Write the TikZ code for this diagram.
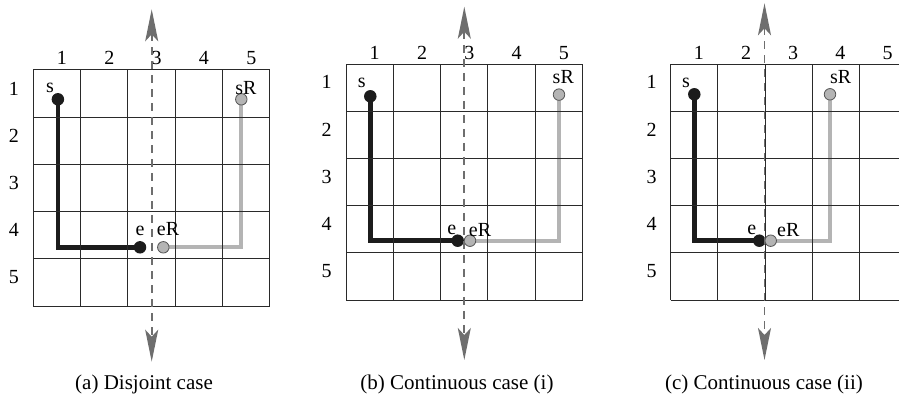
\documentclass[tikz,border=0pt]{standalone}
\usepackage{fontspec}
\setmainfont{Liberation Serif}
\usetikzlibrary{arrows.meta,backgrounds}
\definecolor{gridcol}{HTML}{2A2A2A}
\definecolor{blk}{HTML}{1C1C1C}
\definecolor{lgray}{HTML}{B4B4B4}
\definecolor{dgray}{HTML}{6E6E6E}
\definecolor{rim}{HTML}{555555}
\tikzset{
  gridline/.style={draw=gridcol,line width=1pt},
  blkpath/.style={draw=blk,line width=4.6pt},
  grypath/.style={draw=lgray,line width=4.2pt},
  blkdot/.style={circle,fill=blk,minimum size=12.5pt,inner sep=0pt},
  grydot/.style={circle,fill=lgray,draw=rim,line width=0.8pt,minimum size=11.5pt,inner sep=0pt},
  mirror/.style={draw=dgray,line width=1.8pt,dash pattern=on 8pt off 6pt,
    {Stealth[length=32pt,width=13pt,inset=7pt]}-{Stealth[length=32pt,width=13pt,inset=7pt]}},
  lbl/.style={font=\fontsize{20}{20}\selectfont,inner sep=0pt},
  caption/.style={font=\fontsize{21}{21}\selectfont,inner sep=0pt,anchor=base},
}
\begin{document}
\begin{tikzpicture}[x=1pt,y=-1pt]
\clip (0,0) rectangle (899,398);

% ---------- (a) disjoint case ----------
\begin{scope}[shift={(33.3,70)}]
  \foreach \i in {0,...,5} {
    \draw[gridline] (\i*47.33,0) -- (\i*47.33,236);
    \draw[gridline] (0,\i*47.2) -- (236.7,\i*47.2);
  }
  \foreach \i in {1,...,5} {
    \node[lbl] (ac\i) at ({(\i-0.5)*47.33+5},-12) {\i};
    \node[lbl] (ar\i) at (-19.3,{(\i-0.5)*47.2-5}) {\i};
  }
  \node[blkdot] (as) at (24.6,29.3) {};
  \node[blkdot] (ae) at (106.7,177.3) {};
  \node[grydot] (aeR) at (130,177.3) {};
  \node[grydot] (asR) at (208,29.3) {};
  \begin{pgfonlayer}{background}
    \draw[blkpath] (as.center) |- (ae.center);
    \draw[grypath] (asR.center) |- (aeR.center);
  \end{pgfonlayer}
  \node[lbl] (als) at (16.7,18) {s};
  \node[lbl] (alsR) at (212.7,18.5) {sR};
  \node[lbl] (ale) at (106.7,160.5) {e};
  \node[lbl] (aleR) at (134.7,159.5) {eR};
  \coordinate (atop) at (118.4,-60.7);
  \coordinate (abot) at (118.4,291.7);
  \draw[mirror] (atop) -- (abot);
\end{scope}
\node[caption] (capa) at (144,389) {(a) Disjoint case};

% ---------- (b) continuous case (i) ----------
\begin{scope}[shift={(346,64.3)}]
  \foreach \i in {0,...,5} {
    \draw[gridline] (\i*47.33,0) -- (\i*47.33,235.7);
    \draw[gridline] (0,\i*47.14) -- (236.7,\i*47.14);
  }
  \foreach \i in {1,...,5} {
    \node[lbl] (bc\i) at ({(\i-0.5)*47.33+5},-11.3) {\i};
    \node[lbl] (br\i) at (-19.3,{(\i-0.5)*47.14-5.5}) {\i};
  }
  \node[blkdot] (bs) at (24.3,32) {};
  \node[blkdot] (be) at (111.7,176.4) {};
  \node[grydot] (beR) at (124,176.4) {};
  \node[grydot] (bsR) at (213,30.3) {};
  \begin{pgfonlayer}{background}
    \draw[blkpath] (bs.center) |- (be.center);
    \draw[grypath] (bsR.center) |- (beR.center);
  \end{pgfonlayer}
  \node[lbl] (bls) at (15.7,19) {s};
  \node[lbl] (blsR) at (217.3,13) {sR};
  \node[lbl] (ble) at (105.7,166) {e};
  \node[lbl] (bleR) at (134,165.5) {eR};
  \coordinate (btop) at (118.3,-57.6);
  \coordinate (bbot) at (118.3,295.7);
  \draw[mirror] (btop) -- (bbot);
\end{scope}
\node[caption] (capb) at (457,389) {(b) Continuous case (i)};

% ---------- (c) continuous case (ii) ----------
\begin{scope}[shift={(670.7,64.3)}]
  \foreach \i in {0,...,5} {
    \draw[gridline] (\i*47.2,0) -- (\i*47.2,235.7);
    \draw[gridline] (0,\i*47.14) -- (236,\i*47.14);
  }
  \foreach \i in {1,...,5} {
    \node[lbl] (cc\i) at ({(\i-0.5)*47.2+4.5},-11.3) {\i};
    \node[lbl] (cr\i) at (-19,{(\i-0.5)*47.14-5.5}) {\i};
  }
  \node[blkdot] (cs) at (23.6,30) {};
  \node[blkdot] (ce) at (88.6,176.4) {};
  \node[grydot] (ceR) at (100,176.4) {};
  \node[grydot] (csR) at (159.3,30) {};
  \begin{pgfonlayer}{background}
    \draw[blkpath] (cs.center) |- (ce.center);
    \draw[grypath] (csR.center) |- (ceR.center);
  \end{pgfonlayer}
  \node[lbl] (cls) at (15.3,19) {s};
  \node[lbl] (clsR) at (170,13) {sR};
  \node[lbl] (cle) at (81,166) {e};
  \node[lbl] (cleR) at (117.6,165.5) {eR};
  \coordinate (ctop) at (93.8,-61);
  \coordinate (cbot) at (93.8,295.7);
  \draw[mirror] (ctop) -- (cbot);
\end{scope}
\node[caption] (capc) at (764,389) {(c) Continuous case (ii)};
\end{tikzpicture}
\end{document}
